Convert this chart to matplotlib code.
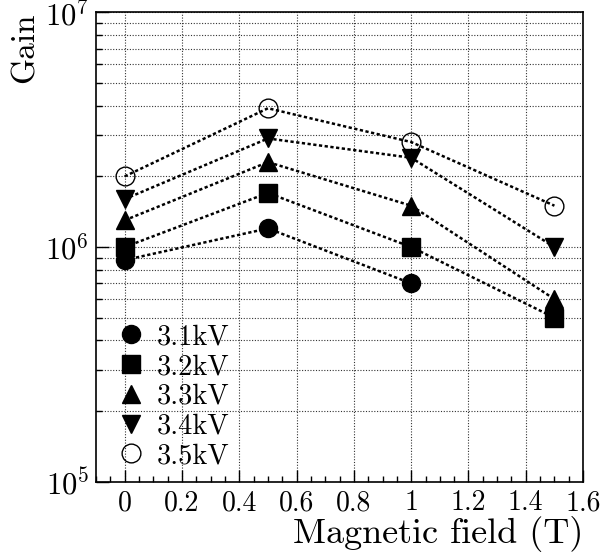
"""
Gain vs magnetic field for several HV settings (ROOT-style log plot).
"""

import matplotlib
matplotlib.use("Agg")
import matplotlib.pyplot as plt
from matplotlib.ticker import MultipleLocator, LogLocator, FixedLocator, FixedFormatter

plt.rcParams["font.family"] = "serif"
plt.rcParams["font.serif"] = ["cmr10", "DejaVu Serif"]
plt.rcParams["mathtext.fontset"] = "cm"
plt.rcParams["axes.formatter.use_mathtext"] = True

field = [0.0, 0.5, 1.0, 1.5]
gain_31 = [8.8e5, 1.2e6, 7.0e5]
gain_32 = [1.0e6, 1.7e6, 1.0e6, 5.0e5]
gain_33 = [1.3e6, 2.3e6, 1.5e6, 6.0e5]
gain_34 = [1.6e6, 2.9e6, 2.4e6, 1.0e6]
gain_35 = [2.0e6, 3.9e6, 2.8e6, 1.5e6]

labels = ["3.1kV", "3.2kV", "3.3kV", "3.4kV", "3.5kV"]
series = [gain_31, gain_32, gain_33, gain_34, gain_35]
markers = ["o", "s", "^", "v", "o"]
filled = [True, True, True, True, False]

x_ticks = [0, 0.2, 0.4, 0.6, 0.8, 1.0, 1.2, 1.4, 1.6]
x_ticklabels = ["0", "0.2", "0.4", "0.6", "0.8", "1", "1.2", "1.4", "1.6"]
y_ticks = [1e5, 1e6, 1e7]
y_ticklabels = [r"$10^5$", r"$10^6$", r"$10^7$"]


def main():
    fig = plt.figure(figsize=(6.08, 5.57), dpi=100)
    ax = fig.add_axes([0.158, 0.135, 0.801, 0.843])

    for vals, lab, mk, fill in zip(series, labels, markers, filled):
        ax.plot(
            field[:len(vals)], vals,
            linestyle=(0, (1.3, 1.0)), linewidth=1.8, color="black",
            marker=mk, markersize=13 if fill else 13.5,
            markerfacecolor="black" if fill else "none",
            markeredgecolor="black", markeredgewidth=1.0,
            label=lab,
        )

    ax.set_yscale("log")
    ax.set_xlim(-0.1, 1.6)
    ax.set_ylim(1e5, 1e7)

    ax.xaxis.set_minor_locator(MultipleLocator(0.05))
    ax.set_xticks(x_ticks)
    ax.set_xticklabels(x_ticklabels)
    ax.yaxis.set_major_locator(FixedLocator(y_ticks))
    ax.yaxis.set_major_formatter(FixedFormatter(y_ticklabels))
    ax.yaxis.set_minor_locator(LogLocator(base=10, subs=range(2, 10)))
    ax.yaxis.set_minor_formatter(FixedFormatter([]))

    ax.tick_params(which="both", direction="in", top=False, right=False, width=1.0)
    ax.tick_params(which="major", length=9, labelsize=20, pad=6)
    ax.tick_params(which="minor", length=4.5)
    ax.tick_params(axis="y", which="major", labelsize=22, pad=5)

    ax.grid(True, which="major", axis="x", linestyle=(0, (1, 1.5)), linewidth=0.8, color="#333333")
    ax.grid(True, which="both", axis="y", linestyle=(0, (1, 1.5)), linewidth=0.8, color="#333333")
    for s in ax.spines.values():
        s.set_linewidth(1.2)

    ax.set_xlabel("Magnetic field (T)", fontsize=26, loc="right", labelpad=0)
    ax.set_ylabel("Gain", fontsize=24, loc="top", labelpad=4)

    ax.legend(
        loc="lower left", bbox_to_anchor=(-0.01, -0.022), frameon=False,
        fontsize=20.5, handlelength=1.2, handletextpad=0.3, labelspacing=0.12,
        borderpad=0.3,
    )
    for h in ax.get_legend().legend_handles:
        h.set_linestyle("none")

    fig.savefig("out.png", dpi=100)


if __name__ == "__main__":
    main()
